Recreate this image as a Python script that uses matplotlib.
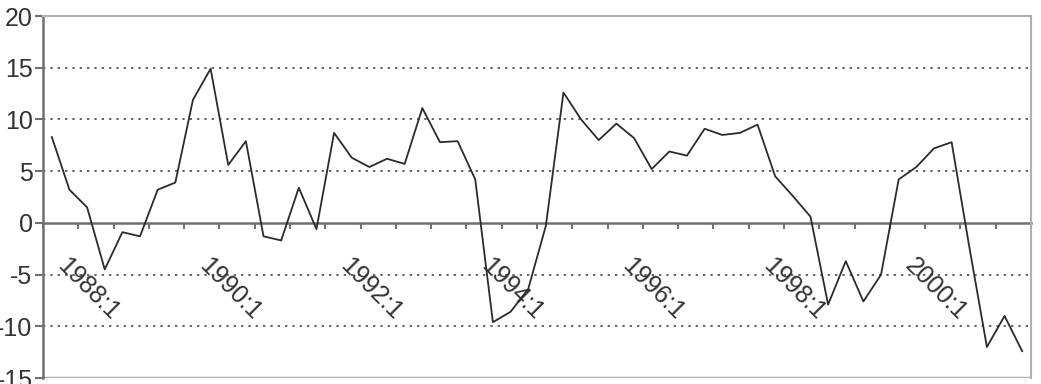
import matplotlib
matplotlib.use("Agg")
import matplotlib.pyplot as plt
from matplotlib.transforms import ScaledTranslation

# quarterly series, 1988:1 to 2001:4
quarters = [f"{yr}:{q}" for yr in range(1988, 2002) for q in range(1, 5)]
values = [
    8.3, 3.2, 1.5, -4.5, -0.9, -1.3, 3.2, 3.9,
    11.9, 14.9, 5.6, 7.9, -1.3, -1.7, 3.4, -0.6,
    8.7, 6.3, 5.4, 6.2, 5.7, 11.1, 7.8, 7.9,
    4.2, -9.6, -8.6, -6.4, -0.3, 12.6, 10.0, 8.0,
    9.6, 8.2, 5.2, 6.9, 6.5, 9.1, 8.5, 8.7,
    9.5, 4.5, 2.6, 0.6, -7.9, -3.7, -7.6, -5.0,
    4.2, 5.4, 7.2, 7.8, -2.3, -12.0, -9.0, -12.4,
]
y_ticks = [-15, -10, -5, 0, 5, 10, 15, 20]
grid_levels = [-10, -5, 5, 10, 15]

plt.rcParams["font.family"] = ["Liberation Sans", "DejaVu Sans"]

fig = plt.figure(figsize=(10.41, 3.84), dpi=100)
ax = fig.add_axes([0.0413, 0.0156, 0.9491, 0.9427])

x = list(range(len(values)))

for g in grid_levels:
    ax.axhline(g, color="#4a4a4a", lw=1.2, dashes=(1.4, 3.0), zorder=1)

ax.plot(x, values, color="#2b2b2b", lw=1.3, zorder=3)

ax.set_xlim(-0.5, len(values) - 0.5)
ax.set_ylim(-15, 20)

# spines
for side in ["top", "right"]:
    ax.spines[side].set_color("#b0b0b0")
    ax.spines[side].set_linewidth(1.5)
ax.spines["left"].set_color("#707070")
ax.spines["left"].set_linewidth(1.8)
ax.spines["bottom"].set_position(("data", 0))
ax.spines["bottom"].set_color("#707070")
ax.spines["bottom"].set_linewidth(1.8)
ax.spines["bottom"].set_zorder(2)
# bottom frame line
ax.axhline(-15, color="#b0b0b0", lw=2.5, zorder=1)

# y axis
ax.set_yticks(y_ticks)
ax.set_yticklabels([str(v) for v in y_ticks])
ax.tick_params(axis="y", direction="out", length=6, width=1.5, color="#707070",
               labelsize=18, labelcolor="#333333", pad=1.5)

# x axis: tick marks every 2 quarters, labels every 8 quarters
ax.set_xticks([i - 0.5 for i in range(0, len(values) + 1, 2)])
ax.set_xticklabels([])
ax.tick_params(axis="x", which="major", direction="out", length=4.5, width=1.5,
               color="#707070")
lab_pos = list(range(0, len(values), 8))
ax.set_xticks(lab_pos, minor=True)
ax.set_xticklabels([quarters[i] for i in lab_pos], minor=True)
ax.tick_params(axis="x", which="minor", length=0, pad=28, labelsize=18,
               labelcolor="#333333")
shift = ScaledTranslation(7 / 72, 0, fig.dpi_scale_trans)
for lab in ax.get_xticklabels(minor=True):
    lab.set_rotation(-45)
    lab.set_rotation_mode("anchor")
    lab.set_ha("left")
    lab.set_va("center")
    lab.set_transform(lab.get_transform() + shift)

fig.savefig("out.png", dpi=100, facecolor="white")
